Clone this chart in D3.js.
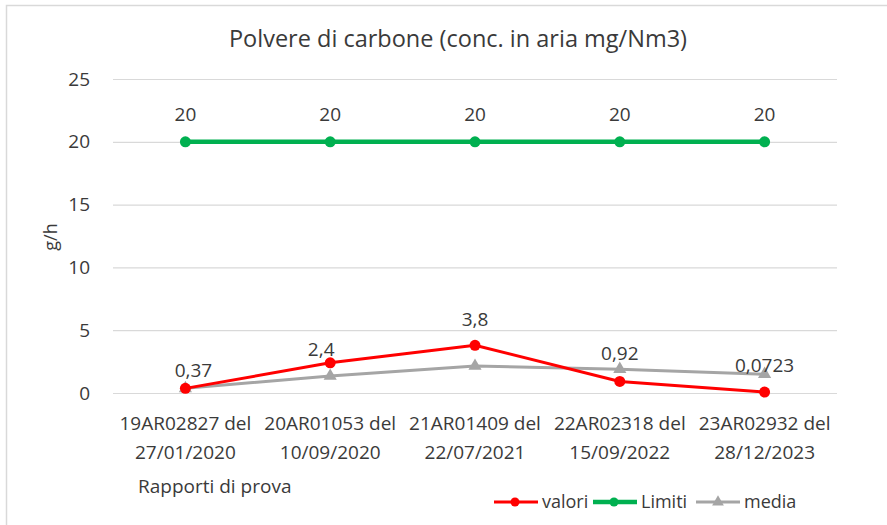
<!DOCTYPE html>
<html><head><meta charset="utf-8">
<script src="https://cdn.jsdelivr.net/npm/d3@7"></script>
<style>body{margin:0;background:#fff;}svg{display:block;font-family:"Open Sans",Lato,sans-serif;}</style>
</head><body>
<svg id="c" width="887" height="525"></svg>
<script>
const categories = [["19AR02827 del","27/01/2020"],["20AR01053 del","10/09/2020"],["21AR01409 del","22/07/2021"],["22AR02318 del","15/09/2022"],["23AR02932 del","28/12/2023"]];
const valori = [0.37, 2.4, 3.8, 0.92, 0.0723];
const valoriLabels = ["0,37","2,4","3,8","0,92","0,0723"];
const limiti = [20, 20, 20, 20, 20];
const limitiLabels = ["20","20","20","20","20"];
const media = [0.37, 1.35, 2.15, 1.9, 1.5];
const yTicks = [0, 5, 10, 15, 20, 25];

(function(){
const svg = d3.select("#c");
const fontC = "#3a3a3a";
svg.append("rect").attr("x",6.5).attr("y",5.5).attr("width",900).attr("height",540)
  .attr("fill","none").attr("stroke","#d9d9d9").attr("stroke-width",1.5);

const pL=113, pR=837, pT=79, pB=393;
const x = d3.scaleBand().domain(d3.range(categories.length)).range([pL,pR]);
const y = d3.scaleLinear().domain([0,25]).range([pB,pT]);
const cx = i => x(i)+x.bandwidth()/2;

const yAxis = d3.axisLeft(y).tickValues(yTicks).tickSize(-(pR-pL)).tickFormat(d3.format("d"));
const ga = svg.append("g").attr("transform",`translate(${pL},0)`).call(yAxis);
ga.select(".domain").remove();
ga.selectAll(".tick line").attr("stroke","#d9d9d9").attr("stroke-width",1.2);
ga.selectAll(".tick text").attr("x",-23).attr("fill",fontC).attr("font-size",19).attr("font-family","'Open Sans',sans-serif");

const xa = svg.append("g");
categories.forEach((c,i)=>{
  const t = xa.append("text").attr("x",cx(i)).attr("y",430).attr("text-anchor","middle")
    .attr("font-size",19).attr("fill",fontC);
  t.append("tspan").attr("x",cx(i)).text(c[0]);
  t.append("tspan").attr("x",cx(i)).attr("dy",29).text(c[1]);
});

svg.append("text").attr("x",458).attr("y",47).attr("text-anchor","middle")
  .attr("font-size",23.5).attr("fill",fontC).text("Polvere di carbone (conc. in aria mg/Nm3)");
svg.append("text").attr("transform","translate(57,237) rotate(-90)").attr("text-anchor","middle")
  .attr("font-size",18).attr("fill",fontC).text("g/h");
svg.append("text").attr("x",138).attr("y",493).attr("font-size",19).attr("fill",fontC).text("Rapporti di prova");

const line = d3.line().x((d,i)=>cx(i)).y(d=>y(d));
const tri = d3.symbol().type(d3.symbolTriangle).size(75);

svg.append("path").datum(media).attr("d",line).attr("fill","none").attr("stroke","#a5a5a5").attr("stroke-width",3);
svg.selectAll(".mt").data(media).enter().append("path").attr("d",tri)
  .attr("transform",(d,i)=>`translate(${cx(i)},${y(d)})`).attr("fill","#a5a5a5");
svg.append("path").datum(limiti).attr("d",line).attr("fill","none").attr("stroke","#00b050").attr("stroke-width",4.5);
svg.selectAll(".lc").data(limiti).enter().append("circle").attr("cx",(d,i)=>cx(i)).attr("cy",d=>y(d)).attr("r",5.5).attr("fill","#00b050");
svg.selectAll(".ll").data(limiti).enter().append("text").attr("x",(d,i)=>cx(i)).attr("y",d=>y(d)-21)
  .attr("text-anchor","middle").attr("font-size",19).attr("fill",fontC).text((d,i)=>limitiLabels[i]);
svg.append("path").datum(valori).attr("d",line).attr("fill","none").attr("stroke","#ff0000").attr("stroke-width",3);
svg.selectAll(".vc").data(valori).enter().append("circle").attr("cx",(d,i)=>cx(i)).attr("cy",d=>y(d)).attr("r",5.5).attr("fill","#ff0000");
// label placement nudges (as placed in the original chart)
const ldx = [8, -9, 0, 0, 0];
const ldy = [-11, -7, -19, -21, -20];
svg.selectAll(".vl").data(valori).enter().append("text").attr("x",(d,i)=>cx(i)+ldx[i]).attr("y",(d,i)=>y(d)+ldy[i])
  .attr("text-anchor","middle").attr("font-size",19).attr("fill",fontC).text((d,i)=>valoriLabels[i]);

const legend = [["valori","#ff0000","circle"],["Limiti","#00b050","circle"],["media","#a5a5a5","tri"]];
const lx = [494, 593, 696];
legend.forEach((l,i)=>{
  const g = svg.append("g").attr("transform",`translate(${lx[i]},502)`);
  g.append("line").attr("x1",0).attr("x2",44).attr("stroke",l[1]).attr("stroke-width",l[0]==="Limiti"?4.5:3);
  if(l[2]==="circle") g.append("circle").attr("cx",21).attr("r",4.5).attr("fill",l[1]);
  else g.append("path").attr("d",d3.symbol().type(d3.symbolTriangle).size(60)).attr("transform","translate(22,0)").attr("fill",l[1]);
  g.append("text").attr("x",48).attr("y",6).attr("font-size",18).attr("fill",fontC).text(l[0]);
});
})();
</script>
</body></html>
